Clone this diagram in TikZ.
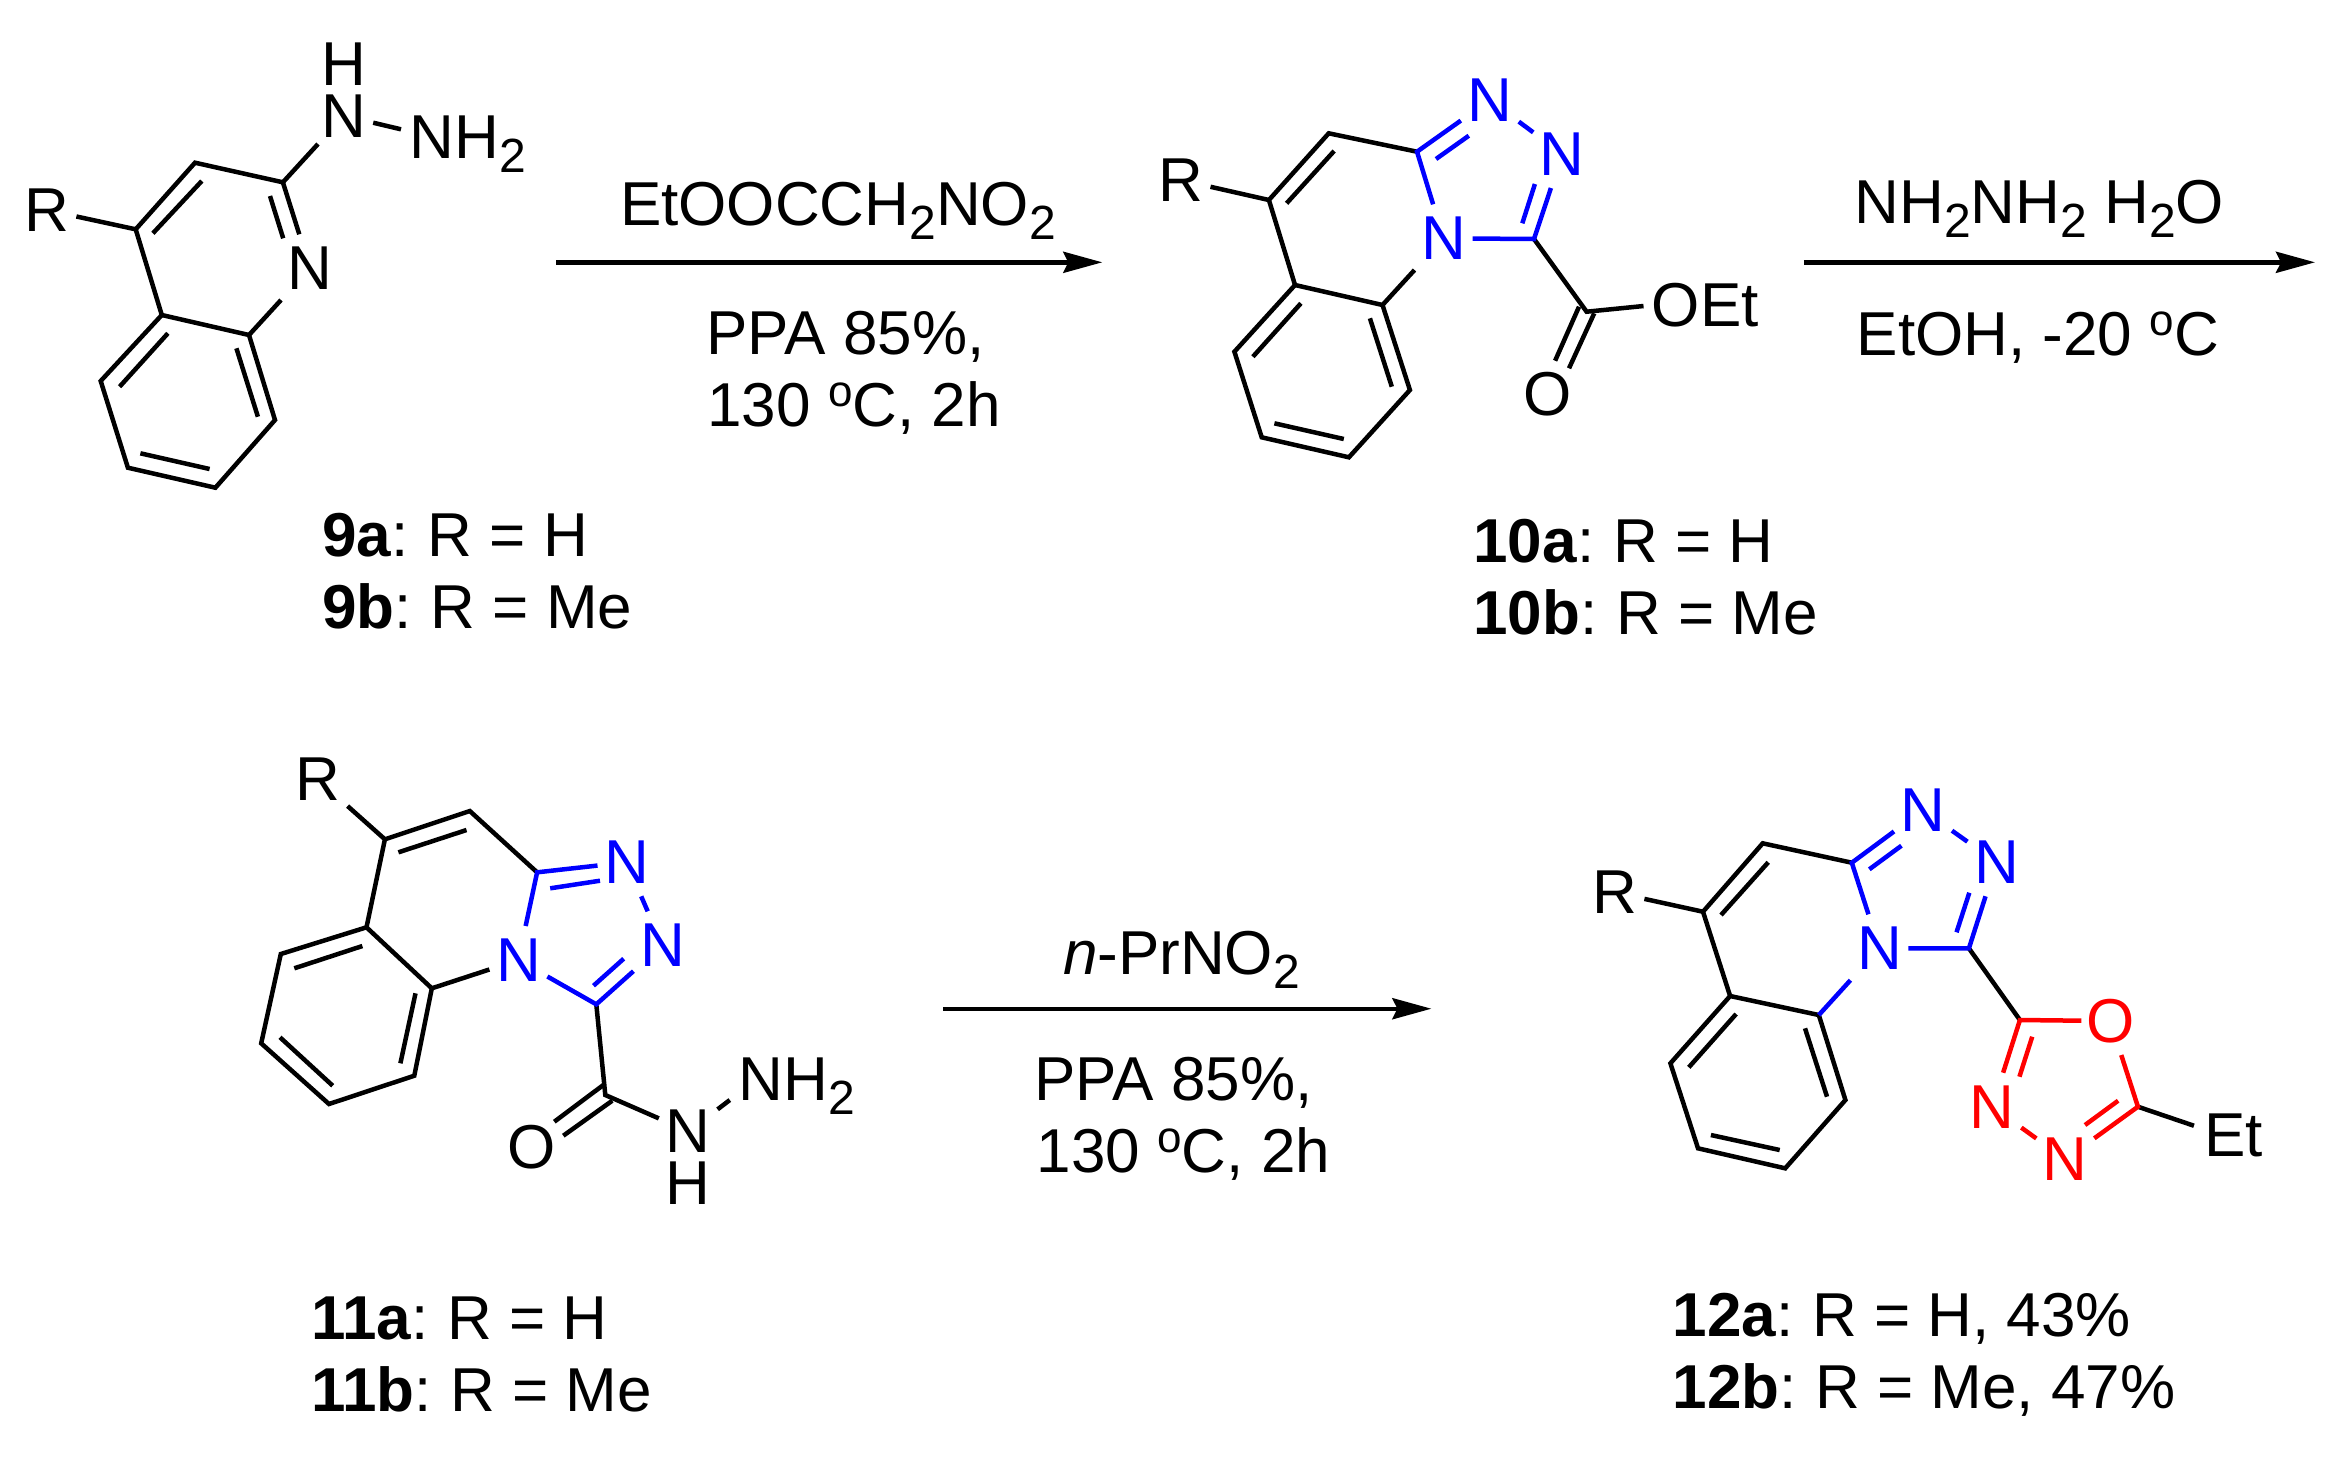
\documentclass[tikz,border=0pt]{standalone}
\usepackage{fontspec}
\setmainfont{Liberation Sans}
\usetikzlibrary{arrows.meta}
\newcommand{\chemsub}[1]{\raisebox{-7.2pt}{\fontsize{24}{24}\selectfont #1}}
\newcommand{\chemdeg}{\raisebox{10pt}{\fontsize{22}{22}\selectfont o}}
\newcommand{\cpdlabel}[2]{\textbf{#1}:\hspace{-2.2pt} #2}
\definecolor{chemblue}{RGB}{0,0,255}
\definecolor{chemred}{RGB}{255,0,0}
\tikzset{
  chemfont/.style={font=\fontsize{31}{36}\selectfont},
  atom/.style={chemfont,rectangle,inner sep=0pt,outer sep=0pt,minimum width=29pt,minimum height=34pt},
  amine/.style={atom,minimum height=28pt},
  hydrogen/.style={atom,minimum height=0pt},
  rgroup/.style={atom,minimum width=30pt,minimum height=27pt},
  txt/.style={chemfont,inner sep=0pt,outer sep=0pt,anchor=base west},
  bond/.style={line width=2.25pt,line join=miter,line cap=butt},
  bluebond/.style={bond,draw=chemblue},
  redbond/.style={bond,draw=chemred},
  rxn/.style={line width=2.2pt,-{Stealth[length=19.5pt,width=10.5pt,inset=2.5pt]}},
}
\begin{document}
\begin{tikzpicture}[x=0.5pt,y=-0.5pt]
\path[use as bounding box,fill=white] (0,0) rectangle (2348,1458);

% ---------- compound 9 ----------
\coordinate (Aa) at (135.7,229.3);
\coordinate (Ab) at (195,162.7);
\coordinate (Ac) at (282.9,182.3);
\coordinate (Ad) at (249,335);
\coordinate (Ae) at (161.8,315);
\coordinate (Af) at (100.7,381);
\coordinate (Ag) at (127.9,467.7);
\coordinate (Ah) at (215.4,487.7);
\coordinate (Ai) at (275,420);
\node[atom] (AN) at (310,268.3) {N};
\node[rgroup] (AR) at (46.4,210) {R};
\node[amine] (ANH) at (343.6,116) {N};
\node[hydrogen] (AH) at (343.6,64.3) {H};
\node[txt] (ANHH) at (409.5,158.3) {NH\chemsub{2}};
\coordinate (Ap1) at (373.2,122.7);
\coordinate (Ap2) at (401,129.3);
\coordinate (Aq1) at (201.8,181);
\coordinate (Aq2) at (152.9,233.3);
\coordinate (Ar1) at (270,196);
\coordinate (Ar2) at (283.2,238.3);
\coordinate (As1) at (167.9,333.3);
\coordinate (As2) at (119.6,386.7);
\coordinate (At1) at (236.4,348.3);
\coordinate (At2) at (257.9,416.7);
\coordinate (Au1) at (140.4,453.3);
\coordinate (Au2) at (209.6,469);
\draw[bond] (Ac) -- (Ab) -- (Aa) -- (Ae) -- (Ad);
\draw[bond] (Ae) -- (Af) -- (Ag) -- (Ah) -- (Ai) -- (Ad);
\draw[bond] (Ac) -- (AN);
\draw[bond] (AN) -- (Ad);
\draw[bond] (AR) -- (Aa);
\draw[bond] (Ac) -- (ANH);
\draw[bond] (Ap1) -- (Ap2);
\draw[bond] (Aq1) -- (Aq2);
\draw[bond] (Ar1) -- (Ar2);
\draw[bond] (As1) -- (As2);
\draw[bond] (At1) -- (At2);
\draw[bond] (Au1) -- (Au2);
\node[txt] (Alab1) at (322.5,556.7) {\cpdlabel{9a}{R = H}};
\node[txt] (Alab2) at (322.5,628.3) {\cpdlabel{9b}{R = Me}};

% ---------- arrow 1 ----------
\coordinate (R1s) at (556,262.3);
\coordinate (R1e) at (1102.3,262.3);
\draw[rxn] (R1s) -- (R1e);
\node[txt] (R1a) at (620,225) {EtOOCCH\chemsub{2}NO\chemsub{2}};
\node[txt] (R1b) at (706.4,354) {PPA 85\%,};
\node[txt] (R1c) at (707.5,426.7) {130 \chemdeg C, 2h};

% ---------- compound 10 ----------
\coordinate (Ba) at (1268.9,200);
\coordinate (Bb) at (1328.7,133.3);
\coordinate (Bc) at (1417,151.7);
\coordinate (Bd) at (1382.5,305);
\coordinate (Be) at (1295,285);
\coordinate (Bf) at (1234.4,351.7);
\coordinate (Bg) at (1261.7,437.3);
\coordinate (Bh) at (1348.9,457.3);
\coordinate (Bi) at (1409.9,390);
\coordinate (Bk) at (1534,239);
\coordinate (BC) at (1586.6,311.7);
\node[atom,text=chemblue] (BNb) at (1443.5,238.3) {N};
\node[atom,text=chemblue] (BN1) at (1489.8,100) {N};
\node[atom,text=chemblue] (BN2) at (1562.2,154) {N};
\node[atom] (BO) at (1548,394.3) {O};
\node[rgroup] (BR) at (1180.5,180) {R};
\node[txt] (BOEt) at (1651.8,326.7) {OEt};
\coordinate (Bp) at (1643.5,306);
\coordinate (Bq1) at (1334.1,151);
\coordinate (Bq2) at (1286.6,203.3);
\coordinate (Br1) at (1436,159);
\coordinate (Br2) at (1468.8,135.7);
\coordinate (Bs1) at (1534.9,184);
\coordinate (Bs2) at (1522.3,223.3);
\coordinate (Bt1) at (1300.9,303.3);
\coordinate (Bt2) at (1252.9,356.7);
\coordinate (Bu1) at (1369.9,318.3);
\coordinate (Bu2) at (1391.8,386.7);
\coordinate (Bv1) at (1274.4,423.3);
\coordinate (Bv2) at (1343.8,439);
\coordinate (Bw1) at (1579,306.7);
\coordinate (Bw2) at (1555.1,360.7);
\coordinate (Bx1) at (1594.2,313.3);
\coordinate (Bx2) at (1569,368.3);
\draw[bond] (Bc) -- (Bb) -- (Ba) -- (Be) -- (Bd);
\draw[bond] (Be) -- (Bf) -- (Bg) -- (Bh) -- (Bi) -- (Bd);
\draw[bond] (BR) -- (Ba);
\draw[bond] (BNb) -- (Bd);
\draw[bond] (Bk) -- (BC) -- (Bp);
\draw[bond] (Bw1) -- (Bw2);
\draw[bond] (Bx1) -- (Bx2);
\draw[bond] (Bq1) -- (Bq2);
\draw[bond] (Bt1) -- (Bt2);
\draw[bond] (Bu1) -- (Bu2);
\draw[bond] (Bv1) -- (Bv2);
\draw[bluebond] (BN1) -- (Bc) -- (BNb);
\draw[bluebond] (BN2) -- (Bk) -- (BNb);
\draw[bluebond] (BN1) -- (BN2);
\draw[bluebond] (Br1) -- (Br2);
\draw[bluebond] (Bs1) -- (Bs2);
\node[txt] (Blab1) at (1473.5,562.3) {\cpdlabel{10a}{R = H}};
\node[txt] (Blab2) at (1473.5,634.3) {\cpdlabel{10b}{R = Me}};

% ---------- arrow 2 ----------
\coordinate (R2s) at (1803.9,262.3);
\coordinate (R2e) at (2315,262.3);
\draw[rxn] (R2s) -- (R2e);
\node[txt] (R2a) at (1854.5,223) {NH\chemsub{2}NH\chemsub{2} H\chemsub{2}O};
\node[txt] (R2b) at (1856.7,355.7) {EtOH, -20 \chemdeg C};

% ---------- compound 11 ----------
\coordinate (Ca) at (384.9,839.3);
\coordinate (Cb) at (469.8,811);
\coordinate (Cc) at (537.1,872.3);
\coordinate (Cd) at (431.8,988.3);
\coordinate (Ce) at (366.5,927.3);
\coordinate (Cf) at (280.8,954);
\coordinate (Cg) at (261.2,1043.3);
\coordinate (Ch) at (329,1104);
\coordinate (Ci) at (414.3,1075.7);
\coordinate (Ck) at (596.3,1004.3);
\coordinate (CC) at (605.3,1095);
\node[atom,text=chemblue] (CNb) at (518.4,960) {N};
\node[atom,text=chemblue] (CN1) at (626.5,862.3) {N};
\node[atom,text=chemblue] (CN2) at (662.4,945.3) {N};
\node[atom] (CO) at (531.8,1146.7) {O};
\node[amine] (CNH) at (687.8,1131) {N};
\node[hydrogen] (CH) at (687.8,1183.3) {H};
\node[rgroup] (CR) at (317.6,779.3) {R};
\node[txt] (CNHH) at (738.5,1100) {NH\chemsub{2}};
\coordinate (Cp1) at (717.6,1109.3);
\coordinate (Cp2) at (729.8,1100);
\coordinate (Cq1) at (398.4,852.3);
\coordinate (Cq2) at (466.5,830);
\coordinate (Cr1) at (550.2,888.3);
\coordinate (Cr2) at (600,880.7);
\coordinate (Cs1) at (623.7,958.7);
\coordinate (Cs2) at (593.5,985.7);
\coordinate (Ct1) at (362.4,946);
\coordinate (Ct2) at (294.3,968.3);
\coordinate (Cu1) at (415.5,993.3);
\coordinate (Cu2) at (400.4,1063.3);
\coordinate (Cv1) at (280,1037.3);
\coordinate (Cv2) at (332.7,1085.7);
\coordinate (Cw1) at (603.3,1085);
\coordinate (Cw2) at (554.3,1121.7);
\coordinate (Cx1) at (612.2,1100.7);
\coordinate (Cx2) at (563.3,1135.7);
\draw[bond] (Cc) -- (Cb) -- (Ca) -- (Ce) -- (Cd);
\draw[bond] (Ce) -- (Cf) -- (Cg) -- (Ch) -- (Ci) -- (Cd);
\draw[bond] (CR) -- (Ca);
\draw[bond] (CNb) -- (Cd);
\draw[bond] (Ck) -- (CC) -- (CNH);
\draw[bond] (Cp1) -- (Cp2);
\draw[bond] (Cw1) -- (Cw2);
\draw[bond] (Cx1) -- (Cx2);
\draw[bond] (Cq1) -- (Cq2);
\draw[bond] (Ct1) -- (Ct2);
\draw[bond] (Cu1) -- (Cu2);
\draw[bond] (Cv1) -- (Cv2);
\draw[bluebond] (CN1) -- (Cc) -- (CNb);
\draw[bluebond] (CN2) -- (Ck) -- (CNb);
\draw[bluebond] (CN1) -- (CN2);
\draw[bluebond] (Cr1) -- (Cr2);
\draw[bluebond] (Cs1) -- (Cs2);
\node[txt] (Clab1) at (311,1339.7) {\cpdlabel{11a}{R = H}};
\node[txt] (Clab2) at (311,1411.7) {\cpdlabel{11b}{R = Me}};

% ---------- arrow 3 ----------
\coordinate (R3s) at (943,1008.7);
\coordinate (R3e) at (1431.4,1008.7);
\draw[rxn] (R3s) -- (R3e);
\node[txt] (R3a) at (1063,974.3) {\textit{n}-PrNO\chemsub{2}};
\node[txt] (R3b) at (1034.5,1100.7) {PPA 85\%,};
\node[txt] (R3c) at (1036.7,1172.3) {130 \chemdeg C, 2h};

% ---------- compound 12 ----------
\coordinate (Da) at (1703,911.7);
\coordinate (Db) at (1762.7,843.3);
\coordinate (Dc) at (1851.8,862.7);
\coordinate (Dd) at (1818.8,1015);
\coordinate (De) at (1730.1,996);
\coordinate (Df) at (1670.4,1063.3);
\coordinate (Dg) at (1698,1148.3);
\coordinate (Dh) at (1785.2,1168.3);
\coordinate (Di) at (1845.4,1100);
\coordinate (Dk) at (1968.9,948.3);
\coordinate (Dm) at (2019.9,1020);
\coordinate (Dn) at (2137.9,1106.7);
\node[atom,text=chemblue] (DNb) at (1879.4,948.3) {N};
\node[atom,text=chemblue] (DN1) at (1923,810) {N};
\node[atom,text=chemblue] (DN2) at (1996.4,862.3) {N};
\node[atom,text=chemred] (DO) at (2110.3,1021) {O};
\node[atom,text=chemred] (DN3) at (1992.3,1106.7) {N};
\node[atom,text=chemred] (DN4) at (2065.3,1159.3) {N};
\node[rgroup] (DR) at (1614.4,892.3) {R};
\node[txt] (DEt) at (2204.5,1156) {Et};
\coordinate (Dp) at (2193.9,1125.7);
\coordinate (Dq1) at (1768.2,862.3);
\coordinate (Dq2) at (1721,915);
\coordinate (Dr1) at (1869.3,869.3);
\coordinate (Dr2) at (1901.4,845.7);
\coordinate (Ds1) at (1969.3,892.7);
\coordinate (Ds2) at (1956.5,932.3);
\coordinate (Dt1) at (1736.1,1014);
\coordinate (Dt2) at (1688.8,1067.3);
\coordinate (Du1) at (1805,1028.3);
\coordinate (Du2) at (1827,1096.7);
\coordinate (Dv1) at (1710.9,1135);
\coordinate (Dv2) at (1779.7,1150);
\coordinate (Dw1) at (2032.2,1036.7);
\coordinate (Dw2) at (2019.4,1076.7);
\coordinate (Dx1) at (2085,1125);
\coordinate (Dx2) at (2118.1,1100.7);
\draw[bond] (Dc) -- (Db) -- (Da) -- (De) -- (Dd);
\draw[bond] (De) -- (Df) -- (Dg) -- (Dh) -- (Di) -- (Dd);
\draw[bond] (DR) -- (Da);
\draw[bond] (Dk) -- (Dm);
\draw[bond] (Dn) -- (Dp);
\draw[bond] (Dq1) -- (Dq2);
\draw[bond] (Dt1) -- (Dt2);
\draw[bond] (Du1) -- (Du2);
\draw[bond] (Dv1) -- (Dv2);
\draw[bluebond] (DN1) -- (Dc) -- (DNb);
\draw[bluebond] (DN2) -- (Dk) -- (DNb);
\draw[bluebond] (DN1) -- (DN2);
\draw[bluebond] (DNb) -- (Dd);
\draw[bluebond] (Dr1) -- (Dr2);
\draw[bluebond] (Ds1) -- (Ds2);
\draw[redbond] (DO) -- (Dm) -- (DN3);
\draw[redbond] (DN3) -- (DN4);
\draw[redbond] (DN4) -- (Dn) -- (DO);
\draw[redbond] (Dw1) -- (Dw2);
\draw[redbond] (Dx1) -- (Dx2);
\node[txt] (Dlab1) at (1672.5,1336.7) {\cpdlabel{12a}{R = H, 43\%}};
\node[txt] (Dlab2) at (1672.5,1408.3) {\cpdlabel{12b}{R = Me, 47\%}};
\end{tikzpicture}
\end{document}
